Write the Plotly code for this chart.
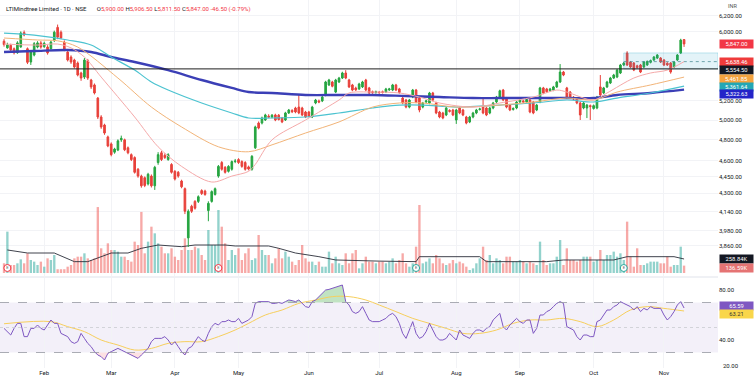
import numpy as np
import pandas as pd
import plotly.graph_objects as go

# ---------------- data ----------------
TITLE = "LTIMindtree Limited · 1D · NSE"
START, END = "2025-01-16", "2025-11-12"
HOLIDAYS = ["2025-02-26", "2025-03-14", "2025-03-31", "2025-04-10", "2025-04-14", "2025-04-18",
            "2025-05-01", "2025-08-15", "2025-08-27", "2025-10-02", "2025-10-22", "2025-11-05"]
SPECIAL_SESSIONS = ["2025-02-01"]
MONTH_LABELS = ["Feb", "Mar", "Apr", "May", "Jun", "Jul", "Aug", "Sep", "Oct", "Nov"]

opens = [5880, 5800, 5830, 5790, 5742, 5812, 5985, 5790, 5634, 5715, 5810, 5860, 5815, 5810, 5790, 5890, 6050, 5990, 5870, 5750,
         5692, 5657, 5622, 5508, 5462, 5650, 5429, 5374, 5231, 5031, 4949, 4829, 4760, 4680, 4700, 4800, 4800, 4722, 4656, 4628,
         4518, 4455, 4440, 4384, 4455, 4367, 4581, 4674, 4650, 4609, 4563, 4499, 4490, 4410, 4341, 3923, 4187, 4229, 4229, 4324,
         4320, 4150, 4229, 4290, 4455, 4581, 4536, 4499, 4518, 4590, 4609, 4590, 4581, 4540, 4518, 4722, 4969, 4969, 5000, 5040,
         5030, 5052, 5050, 5020, 5000, 5073, 5100, 5125, 5135, 5125, 5083, 5083, 5031, 5178, 5200, 5200, 5264, 5374, 5407, 5296,
         5407, 5451, 5508, 5429, 5374, 5340, 5330, 5352, 5429, 5341, 5300, 5290, 5295, 5300, 5296, 5320, 5318, 5374, 5330, 5231,
         5210, 5135, 5242, 5318, 5231, 5135, 5190, 5178, 5286, 5178, 5083, 5073, 5052, 5100, 5104, 5000, 5125, 5104, 5031, 4980,
         5031, 5073, 5110, 5135, 5125, 5073, 5125, 5189, 5240, 5318, 5231, 5156, 5110, 5125, 5189, 5200, 5189, 5210, 5189, 5104,
         5189, 5341, 5330, 5310, 5318, 5352, 5407, 5519, 5341, 5296, 5240, 5231, 5178, 5125, 5125, 5150, 5120, 5125, 5352, 5286,
         5352, 5396, 5451, 5462, 5508, 5599, 5739, 5634, 5622, 5590, 5599, 5576, 5600, 5630, 5657, 5680, 5680, 5657, 5620, 5622,
         5576, 5657, 5739, 5900]
highs = [5905, 5862, 5850, 5805, 5880, 6000, 6012, 5805, 5770, 5870, 5880, 5882, 5875, 5832, 5885, 6010, 6085, 6012, 5890, 5762,
         5712, 5672, 5640, 5522, 5680, 5670, 5442, 5390, 5242, 5050, 4962, 4842, 4775, 4722, 4805, 4842, 4812, 4735, 4668, 4640,
         4530, 4468, 4452, 4485, 4470, 4550, 4680, 4692, 4668, 4670, 4575, 4510, 4502, 4422, 4352, 4160, 4200, 4240, 4282, 4336,
         4332, 4230, 4326, 4352, 4558, 4595, 4548, 4556, 4600, 4615, 4622, 4602, 4594, 4552, 4652, 4942, 4985, 5035, 5065, 5060,
         5062, 5065, 5062, 5032, 5085, 5115, 5112, 5138, 5264, 5138, 5095, 5095, 5148, 5222, 5215, 5255, 5420, 5442, 5420, 5442,
         5464, 5522, 5540, 5442, 5386, 5355, 5398, 5420, 5442, 5353, 5312, 5312, 5308, 5312, 5342, 5342, 5386, 5386, 5342, 5243,
         5222, 5222, 5330, 5330, 5243, 5190, 5212, 5298, 5298, 5190, 5095, 5085, 5138, 5112, 5116, 5116, 5138, 5116, 5043, 5043,
         5085, 5116, 5128, 5242, 5138, 5138, 5190, 5254, 5322, 5330, 5243, 5168, 5132, 5200, 5222, 5212, 5227, 5222, 5200, 5168,
         5353, 5353, 5342, 5342, 5364, 5420, 5610, 5531, 5353, 5308, 5252, 5243, 5190, 5190, 5168, 5162, 5162, 5254, 5485, 5353,
         5420, 5464, 5498, 5554, 5612, 5635, 5760, 5646, 5634, 5602, 5611, 5646, 5652, 5662, 5704, 5727, 5692, 5669, 5632, 5634,
         5646, 5727, 5910, 5906.5]
lows = [5815, 5790, 5758, 5722, 5730, 5800, 5940, 5610, 5600, 5700, 5795, 5790, 5800, 5720, 5780, 5870, 5905, 5905, 5760, 5640,
        5612, 5560, 5470, 5420, 5440, 5430, 5330, 5270, 5010, 4910, 4850, 4728, 4640, 4665, 4690, 4780, 4690, 4660, 4595, 4478,
        4440, 4350, 4355, 4370, 4352, 4330, 4560, 4595, 4615, 4598, 4478, 4415, 4440, 4345, 4120, 3850, 4130, 4158, 4215, 4285,
        4278, 4060, 4218, 4280, 4440, 4505, 4478, 4488, 4505, 4575, 4568, 4532, 4505, 4508, 4505, 4710, 4905, 4955, 4990, 5020,
        5018, 4988, 4995, 4968, 4990, 5062, 5072, 5070, 5060, 5040, 5020, 5028, 5020, 5165, 5176, 5188, 5250, 5362, 5348, 5285,
        5395, 5440, 5438, 5340, 5305, 5308, 5318, 5340, 5305, 5274, 5278, 5280, 5278, 5280, 5285, 5308, 5306, 5306, 5278, 5165,
        5122, 5122, 5230, 5176, 5080, 5122, 5176, 5165, 5198, 5060, 5018, 5008, 5040, 5078, 5040, 4960, 5060, 5040, 4956, 4968,
        5018, 5060, 5098, 5060, 5040, 5060, 5112, 5176, 5228, 5198, 5122, 5092, 5098, 5112, 5176, 5178, 5176, 5070, 5060, 5092,
        5176, 5274, 5288, 5298, 5306, 5340, 5395, 5472, 5230, 5230, 5208, 5165, 5000, 5112, 5020, 5000, 5108, 5112, 5252, 5274,
        5340, 5384, 5440, 5450, 5496, 5587, 5587, 5564, 5529, 5558, 5507, 5564, 5588, 5618, 5645, 5668, 5622, 5587, 5588, 5500,
        5564, 5645, 5727, 5811.5]
closes = [5840, 5835, 5776, 5742, 5860, 5980, 5956, 5630, 5750, 5850, 5860, 5810, 5855, 5740, 5870, 5990, 5930, 5920, 5775, 5657,
          5634, 5576, 5485, 5451, 5657, 5451, 5352, 5286, 5031, 4929, 4868, 4740, 4656, 4710, 4790, 4815, 4703, 4674, 4609, 4490,
          4455, 4367, 4370, 4472, 4367, 4536, 4656, 4609, 4628, 4656, 4490, 4428, 4455, 4358, 4144, 4144, 4144, 4170, 4270, 4298,
          4290, 4212, 4315, 4341, 4545, 4518, 4490, 4545, 4590, 4595, 4581, 4545, 4518, 4520, 4640, 4929, 4918, 5021, 5052, 5030,
          5050, 5000, 5005, 4980, 5073, 5104, 5085, 5083, 5073, 5052, 5031, 5040, 5135, 5210, 5189, 5242, 5407, 5429, 5360, 5429,
          5451, 5508, 5451, 5352, 5318, 5320, 5385, 5407, 5318, 5286, 5290, 5300, 5290, 5292, 5330, 5330, 5374, 5318, 5290, 5178,
          5135, 5210, 5318, 5189, 5104, 5178, 5200, 5286, 5210, 5073, 5031, 5021, 5125, 5090, 5052, 5104, 5073, 5052, 4969, 5031,
          5073, 5104, 5115, 5073, 5052, 5125, 5178, 5242, 5310, 5210, 5135, 5104, 5120, 5189, 5210, 5190, 5215, 5083, 5073, 5156,
          5341, 5286, 5300, 5330, 5352, 5407, 5519, 5485, 5242, 5242, 5220, 5178, 5052, 5178, 5156, 5140, 5150, 5242, 5264, 5341,
          5407, 5451, 5485, 5541, 5599, 5622, 5599, 5576, 5541, 5570, 5519, 5634, 5640, 5650, 5692, 5715, 5634, 5599, 5600, 5519,
          5634, 5715, 5893.5, 5847]
volume_k = [180,
            765, 148, 148, 179, 253, 179, 364, 241, 210, 148,
            210, 117, 271, 241, 333, 70, 70, 70, 117, 148,
            271, 302, 302, 364, 271, 241, 271, 1220, 457, 364,
            549, 426, 426, 395, 302, 302, 241, 210, 580, 518,
            1130, 364, 580, 857, 734, 549, 487, 364, 364, 457,
            302, 241, 426, 641, 426, 426, 487, 457, 333, 241,
            796, 518, 518, 1165, 857, 549, 241, 426, 333, 457,
            241, 364, 457, 241, 271, 703, 426, 333, 333, 179,
            271, 457, 271, 395, 302, 210, 148, 241, 518, 271,
            210, 210, 148, 210, 117, 117, 395, 179, 302, 179,
            148, 364, 179, 364, 426, 86, 179, 302, 210, 210,
            179, 210,
            210, 179, 210, 271, 179, 241, 364, 179, 117, 179,
            487, 1258, 179, 210, 271, 179, 333, 271, 179, 148,
            179, 241, 179, 210, 179, 117, 56, 86, 179, 271,
            487, 241, 333, 179, 271, 241, 179, 302, 302, 210,
            210, 241, 210, 179, 210, 179, 148, 580, 241, 148,
            179, 179, 302, 610, 148, 457, 241, 241, 210, 241,
            302, 302, 302, 210, 241, 426, 241, 333, 333, 395,
            302, 364, 241, 950, 302, 117, 457, 148, 148, 179,
            210, 210, 210, 179, 179, 302, 117, 148, 148, 487,
            136.59]
rsi = [49.3,
       46.7, 44, 49.3, 53.3, 53.3, 42.7, 42.7, 49.3, 49.3, 52,
       49.3, 48, 52, 56, 53.3, 53.3, 45.3, 44, 42.7, 38.7,
       37.3, 38.7, 45.3, 41.3, 37.3, 34.7, 30.7, 28, 26.7, 24,
       29.3, 30.7, 32, 33.3, 32, 30.7, 29.3, 28, 26.7, 25.3,
       28, 30.7, 33.3, 38.7, 41.3, 41.3, 41.3, 42.7, 40, 36,
       38.7, 34.7, 30.7, 28, 33.3, 34.7, 38.7, 42.7, 40, 38.7,
       45.3, 50.7, 53.3, 52, 54.7, 54.7, 56, 54.7, 54.7, 57.3,
       53.3, 54.7, 56, 58.7, 69.3, 70.7, 70.7, 70.7, 70.7, 69.3,
       69.3, 70, 69.3, 70.7, 72, 71.5, 70.7, 72, 69.3, 66.7,
       66, 70.7, 72, 74.7, 77.3, 80, 80.5, 81.3, 82, 83.2,
       84, 70.7, 68, 62.7, 61.3, 62.7, 66.7, 61.3, 56, 54.7,
       54.7, 54.7,
       56, 57.3, 60, 61.3, 58.7, 53.3, 45.3, 41.3, 48, 54.7,
       45.3, 41.3, 42.7, 46.7, 53.3, 48, 42.7, 40, 40, 41.3,
       45.3, 42.7, 40, 48, 44, 42.7, 41.3, 45.3, 48, 48,
       46.7, 49.3, 50.7, 56, 58.7, 61.3, 50.7, 48, 52, 54.7,
       57.3, 54.7, 53.3, 56, 56, 45.3, 49.3, 60, 60, 62.7,
       64, 66.7, 69.3, 70.7, 69.3, 50.7, 49.3, 48, 42.7, 40,
       44, 44, 42.7, 42.7, 54.7, 56, 60, 64, 64, 66.7,
       68, 70.7, 69.3, 68, 66.7, 64, 66.7, 62.7, 65.3, 64,
       66.7, 65.3, 65.3, 65.3, 60, 56, 58.7, 62.7, 68, 70.7,
       65.59]

# moving averages (bar index -> value)
ema20_idx = [0, 10, 16, 20, 24, 29, 39, 46, 53, 62, 68, 73, 75, 80, 90, 100, 103, 110, 118, 124,
             130, 140, 148, 158, 165, 168, 176, 180, 188, 193, 198, 203]
ema20_val = [5846, 5834, 5846, 5800, 5692, 5462, 5031, 4732, 4545, 4401, 4455, 4499, 4563, 4800, 5000, 5210, 5286, 5296, 5286, 5242,
             5178, 5135, 5178, 5242, 5318, 5296, 5210, 5286, 5451, 5508, 5541, 5638.46]
ema50_idx = [0, 10, 16, 22, 34, 44, 53, 64, 73, 80, 90, 100, 110, 118, 125, 135, 148, 158, 168, 176, 183, 193, 203]
ema50_val = [5919, 5895, 5885, 5810, 5451, 5135, 4929, 4732, 4684, 4751, 4868, 4980, 5135, 5178, 5178, 5135, 5156, 5189, 5231,
             5210, 5296, 5374, 5461.85]
ema100_idx = [0, 9, 19, 26, 32, 39, 44, 49, 59, 68, 73, 80, 90, 100, 110, 118, 125, 135, 148, 158, 168, 176, 183, 193, 203]
ema100_val = [5980, 5955, 5895, 5834, 5692, 5541, 5407, 5318, 5178, 5073, 5021, 5021, 5031, 5073, 5125, 5156, 5156, 5135, 5156,
              5178, 5210, 5189, 5231, 5286, 5361.64]
ema200_idx = [0, 9, 19, 26, 32, 39, 49, 59, 68, 73, 80, 90, 100, 110, 120, 130, 140, 148, 158, 168, 176, 183, 193, 203]
ema200_val = [5751, 5763, 5775, 5751, 5692, 5634, 5541, 5429, 5341, 5296, 5286, 5264, 5264, 5264, 5253, 5242, 5231, 5231, 5231,
              5231, 5231, 5264, 5286, 5322.63]
volma_idx = [1, 7, 15, 21, 25, 32, 37, 41, 46, 53, 57, 66, 69, 79, 82, 87, 94, 99, 112, 123, 124, 142, 144, 162, 167, 182, 186, 200, 203]
volma_val = [426, 370, 370, 210, 210, 370, 370, 457, 518, 487, 518, 518, 500, 500, 457, 370, 302, 241, 220, 210, 302, 302, 210,
             210, 241, 241, 302, 302, 258.84]
rsima_idx = [0, 14, 19, 24, 29, 34, 39, 44, 49, 54, 59, 64, 69, 73, 78, 83, 88, 93, 98, 103,
             108, 112, 117, 122, 127, 132, 137, 142, 147, 152, 157, 162, 167, 172, 177, 182, 187, 192, 197, 203]
rsima_val = [53, 54.7, 50.7, 46.7, 40, 36, 32, 33.3, 37.3, 38.7, 38.7, 42.7, 48, 53.3, 60, 64, 69.3, 72, 74.7, 74.7,
             72, 68, 62.7, 57.3, 53.3, 49.3, 45.3, 45.3, 48, 53.3, 56, 56, 57.3, 54.7, 50.7, 56, 64, 66.7, 65.3, 63.21]

level_line = 5554.50
box_start_idx = 185
box_top, box_mid = 5740.0, 5638.46
earnings_idx = [1, 64, 123, 185]
earnings_colors = ["#f23645", "#f23645", "#26a69a", "#26a69a"]
price_ticks = [6200, 6000, 5200, 5000, 4800, 4600, 4450, 4300, 4140, 3980, 3860]
rsi_ticks = [80, 40]
rsi_low_label = 20

# ---------------- build ----------------
N = len(closes)
dates = pd.bdate_range(START, END).drop(pd.to_datetime(HOLIDAYS))
dates = dates.append(pd.to_datetime(SPECIAL_SESSIONS)).sort_values()
dates = list(dates[:N])
x = np.arange(N)
month_pos = []
for m in range(2, 12):
    for i, d in enumerate(dates):
        if d.month == m:
            month_pos.append(i)
            break

up = [c >= o for o, c in zip(opens, closes)]
vol_colors = ["rgba(38,166,154,0.5)" if u else "rgba(239,83,80,0.5)" for u in up]

W, H = 754, 386
ML, MR, MT, MB = 0, 36, 0, 18
PW, PH = W - ML - MR, H - MT - MB          # 718 x 368
price_px = 276
rsi_top_px = 278
x_range = [-1.2, -1.2 + PW / 3.35]
p_top, p_bot = 6400.6, 3627.2
vol_per_px = 18.5
vol_range = [-3 * vol_per_px, (price_px - 3) * vol_per_px]
rsi_range = [17.6, 89.6]
rsi_domain_top = (PH - rsi_top_px) / PH

GREEN, RED = "#26a541", "#e8403a"
FONT = "Roboto"

fig = go.Figure()

fig.add_trace(go.Bar(x=x, y=volume_k, marker=dict(color=vol_colors, line=dict(width=0)),
                     width=0.7, xaxis="x", yaxis="y", showlegend=False))
fig.add_trace(go.Scatter(x=volma_idx, y=volma_val, mode="lines", line=dict(color="#2a2e39", width=0.9),
                         xaxis="x", yaxis="y", showlegend=False))
fig.add_trace(go.Scatter(x=earnings_idx, y=[5 * vol_per_px] * len(earnings_idx), mode="markers+text",
                         text=["E"] * len(earnings_idx), textfont=dict(size=4, color="#555"),
                         marker=dict(size=7, color="white", line=dict(color=earnings_colors, width=1)),
                         xaxis="x", yaxis="y", showlegend=False))

# range box, its midline and the horizontal level
box_x = [box_start_idx, x_range[1], x_range[1], box_start_idx, box_start_idx]
box_y = [level_line, level_line, box_top, box_top, level_line]
fig.add_trace(go.Scatter(x=box_x, y=box_y, mode="lines", fill="toself", fillcolor="rgba(38,166,200,0.13)",
                         line=dict(color="rgba(38,166,200,0.35)", width=0.8), xaxis="x", yaxis="y2",
                         showlegend=False, hoverinfo="skip"))
fig.add_trace(go.Scatter(x=[box_start_idx, x_range[1]], y=[box_mid, box_mid], mode="lines",
                         line=dict(color="#4f8f98", width=0.8, dash="dot"), xaxis="x", yaxis="y2",
                         showlegend=False, hoverinfo="skip"))

ma_specs = [(ema200_idx, ema200_val, "#3b3fb6", 2.4), (ema100_idx, ema100_val, "#4cc3d0", 1.2),
            (ema50_idx, ema50_val, "#f2b478", 1.0), (ema20_idx, ema20_val, "#f5a9a9", 1.0)]
for idx, val, col, wd in ma_specs:
    fig.add_trace(go.Scatter(x=idx, y=val, mode="lines", line=dict(color=col, width=wd, shape="spline", smoothing=0.9),
                             xaxis="x", yaxis="y2", showlegend=False))

fig.add_trace(go.Scatter(x=[x_range[0], x_range[1]], y=[level_line, level_line], mode="lines",
                         line=dict(color="#1c1c1c", width=1), xaxis="x", yaxis="y2",
                         showlegend=False, hoverinfo="skip"))

fig.add_trace(go.Candlestick(x=x, open=opens, high=highs, low=lows, close=closes,
                             increasing=dict(line=dict(color=GREEN, width=1), fillcolor=GREEN),
                             decreasing=dict(line=dict(color=RED, width=1), fillcolor=RED),
                             whiskerwidth=0, xaxis="x", yaxis="y2", showlegend=False))

# RSI
rsi_arr = np.array(rsi)
fig.add_trace(go.Scatter(x=x, y=[70] * N, mode="lines", line=dict(width=0), xaxis="x", yaxis="y3",
                         showlegend=False, hoverinfo="skip"))
fig.add_trace(go.Scatter(x=x, y=np.maximum(rsi_arr, 70), mode="lines", line=dict(width=0), fill="tonexty",
                         fillcolor="rgba(76,175,80,0.35)", xaxis="x", yaxis="y3", showlegend=False, hoverinfo="skip"))
fig.add_trace(go.Scatter(x=x, y=[30] * N, mode="lines", line=dict(width=0), xaxis="x", yaxis="y3",
                         showlegend=False, hoverinfo="skip"))
fig.add_trace(go.Scatter(x=x, y=np.minimum(rsi_arr, 30), mode="lines", line=dict(width=0), fill="tonexty",
                         fillcolor="rgba(242,54,69,0.15)", xaxis="x", yaxis="y3", showlegend=False, hoverinfo="skip"))
fig.add_trace(go.Scatter(x=rsima_idx, y=rsima_val, mode="lines", line=dict(color="#f7cf5c", width=1, shape="spline"),
                         xaxis="x", yaxis="y3", showlegend=False))
fig.add_trace(go.Scatter(x=x, y=rsi, mode="lines", line=dict(color="#7e57c2", width=1),
                         xaxis="x", yaxis="y3", showlegend=False))

shapes = [
    dict(type="rect", xref="x", yref="y3", x0=x_range[0], x1=x_range[1], y0=30, y1=70,
         fillcolor="rgba(126,87,194,0.09)", line=dict(width=0), layer="below"),
    dict(type="line", xref="x", yref="y3", x0=x_range[0], x1=x_range[1], y0=70, y1=70,
         line=dict(color="#9598a1", width=0.8, dash="dash")),
    dict(type="line", xref="x", yref="y3", x0=x_range[0], x1=x_range[1], y0=30, y1=30,
         line=dict(color="#9598a1", width=0.8, dash="dash")),
    dict(type="line", xref="x", yref="y3", x0=x_range[0], x1=x_range[1], y0=50, y1=50,
         line=dict(color="#c9cbd1", width=0.8, dash="dot")),
    dict(type="line", xref="paper", yref="paper", x0=0, x1=1, y0=1 - 277 / PH, y1=1 - 277 / PH,
         line=dict(color="#e0e3eb", width=1)),
]

def badge(text, yref, yval, bg, fg="white", yshift=0):
    return dict(xref="paper", x=1, xanchor="left", xshift=1, yref=yref, y=yval, yanchor="middle",
                yshift=yshift, text=text, showarrow=False, bgcolor=bg, borderpad=1, width=31, align="center",
                font=dict(family=FONT, size=5.8, color=fg))

ann = []
ann.append(badge(f"{closes[-1]:,.2f}", "y2", np.log10(closes[-1]), "#f23645"))
ann.append(badge(f"{ema20_val[-1]:,.2f}", "y2", np.log10(ema20_val[-1]), "#ef3b3b"))
ann.append(badge(f"{level_line:,.2f}", "y2", np.log10(level_line), "#131722", yshift=-1))
ann.append(badge(f"{ema50_val[-1]:,.2f}", "y2", np.log10(ema50_val[-1]), "#f4a340", yshift=-2))
ann.append(badge(f"{ema100_val[-1]:,.2f}", "y2", np.log10(ema100_val[-1]), "#22a7b5", yshift=-1))
ann.append(badge(f"{ema200_val[-1]:,.2f}", "y2", np.log10(ema200_val[-1]), "#2424c8", yshift=-4.5))
ann.append(badge(f"{volma_val[-1]:.2f}K", "y", volma_val[-1], "#131722"))
ann.append(badge(f"{volume_k[-1]:.2f}K", "y", volume_k[-1], "#e57373", yshift=-2))
ann.append(badge(f"{rsi[-1]:.2f}", "y3", rsi[-1], "#7e57c2", yshift=2))
ann.append(badge(f"{rsima_val[-1]:.2f}", "y3", rsima_val[-1], "#f9d64a", fg="#333", yshift=-3))
ann.append(dict(xref="paper", x=1, xanchor="left", xshift=8, yref="paper", y=1, yanchor="top", yshift=-1,
                text="INR", showarrow=False, font=dict(family=FONT, size=5.5, color="#555")))
low_label_y = (rsi_low_label - rsi_range[0]) / (rsi_range[1] - rsi_range[0]) * rsi_domain_top
ann.append(dict(xref="paper", x=1, xanchor="left", xshift=3, yref="paper", y=low_label_y, yanchor="middle",
                text=f"{rsi_low_label:.2f}", showarrow=False, font=dict(family=FONT, size=6, color="#131722")))

chg = closes[-1] - closes[-2]
pct = chg / closes[-2] * 100
red = "#f23645"
title_html = (f"<span style='color:#131722'>{TITLE}</span>&nbsp;&nbsp;&nbsp;&nbsp;&nbsp;&nbsp;&nbsp;"
              f"O<span style='color:{red}'>{opens[-1]:,.2f}</span> "
              f"H<span style='color:{red}'>{highs[-1]:,.2f}</span> "
              f"L<span style='color:{red}'>{lows[-1]:,.2f}</span> "
              f"C<span style='color:{red}'>{closes[-1]:,.2f}</span> "
              f"<span style='color:{red}'>{chg:+.2f} ({pct:+.2f}%)</span>")
ann.append(dict(xref="paper", x=0.006, xanchor="left", yref="paper", y=1, yanchor="top", yshift=-3,
                text=title_html, showarrow=False, font=dict(family=FONT, size=6, color="#131722")))

fig.update_layout(
    width=W, height=H, margin=dict(l=ML, r=MR, t=MT, b=MB),
    paper_bgcolor="white", plot_bgcolor="white", showlegend=False, hovermode=False,
    font=dict(family=FONT, size=6, color="#131722"),
    shapes=shapes, annotations=ann, bargap=0.3,
    xaxis=dict(domain=[0, 1], range=x_range, anchor="y3", tickvals=month_pos, ticktext=MONTH_LABELS,
               showgrid=True, gridcolor="#f2f3f6", gridwidth=1, zeroline=False, showline=False, ticks="",
               tickfont=dict(size=6, color="#131722"), rangeslider=dict(visible=False)),
    yaxis=dict(domain=[1 - price_px / PH, 1], range=vol_range, visible=False, fixedrange=True, anchor="x"),
    yaxis2=dict(overlaying="y", anchor="x", side="right", type="log",
                range=[np.log10(p_bot), np.log10(p_top)], tickvals=price_ticks,
                ticktext=[f"{v:,.2f}" for v in price_ticks], showgrid=True, gridcolor="#f2f3f6",
                zeroline=False, showline=False, ticks="", tickfont=dict(size=6, color="#131722")),
    yaxis3=dict(domain=[0, rsi_domain_top], range=rsi_range, anchor="x", side="right",
                tickvals=rsi_ticks, ticktext=[f"{v:.2f}" for v in rsi_ticks], showgrid=False,
                zeroline=False, showline=False, ticks="", tickfont=dict(size=6, color="#131722")),
)

fig.write_html("out.html", config={"displayModeBar": False},
               post_script="document.body.style.margin='0';")
